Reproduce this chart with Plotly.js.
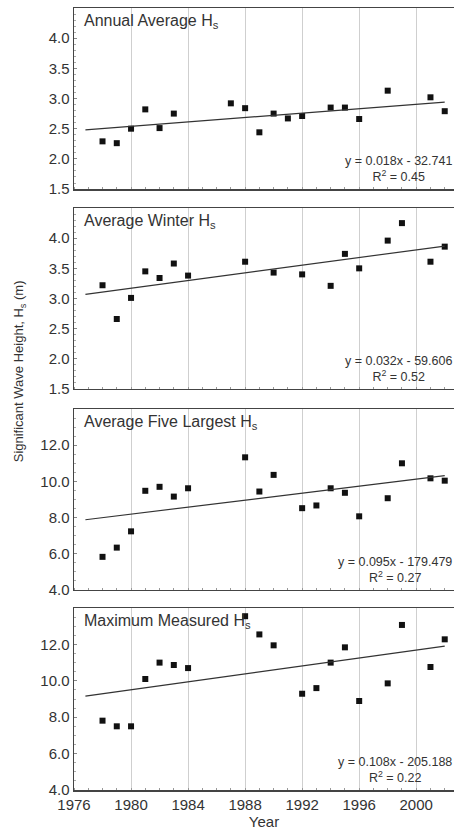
<!DOCTYPE html>
<html><head><meta charset="utf-8">
<script src="https://cdn.plot.ly/plotly-3.0.1.min.js"></script>
<style>html,body{margin:0;padding:0;background:#fff}#chart{width:454px;height:833px}</style>
</head><body><div id="chart"></div>
<script>
// ---- data ----
const panelTitles = ["Annual Average H<sub>s</sub>", "Average Winter H<sub>s</sub>", "Average Five Largest H<sub>s</sub>", "Maximum Measured H<sub>s</sub>"];
const equations = ["y = 0.018x - 32.741", "y = 0.032x - 59.606", "y = 0.095x - 179.479", "y = 0.108x - 205.188"];
const r2 = ["0.45", "0.52", "0.27", "0.22"];

const yearsAnnual = [1978,1979,1980,1981,1982,1983,1987,1988,1989,1990,1991,1992,1994,1995,1996,1998,2001,2002];
const hsAnnual    = [2.29,2.26,2.50,2.82,2.51,2.75,2.92,2.84,2.44,2.75,2.67,2.71,2.85,2.85,2.66,3.13,3.02,2.79];

const yearsWinter = [1978,1979,1980,1981,1982,1983,1984,1988,1990,1992,1994,1995,1996,1998,1999,2001,2002];
const hsWinter    = [3.22,2.66,3.01,3.45,3.34,3.58,3.38,3.61,3.43,3.40,3.21,3.74,3.50,3.96,4.25,3.61,3.86];

const yearsFive = [1978,1979,1980,1981,1982,1983,1984,1988,1989,1990,1992,1993,1994,1995,1996,1998,1999,2001,2002];
const hsFive    = [5.83,6.34,7.24,9.48,9.70,9.16,9.62,11.33,9.44,10.36,8.52,8.67,9.62,9.37,8.07,9.07,11.00,10.17,10.04];

const yearsMax = [1978,1979,1980,1981,1982,1983,1984,1988,1989,1990,1992,1993,1994,1995,1996,1998,1999,2001,2002];
const hsMax    = [7.81,7.50,7.50,10.10,11.00,10.87,10.70,13.55,12.55,11.95,9.29,9.60,11.00,11.84,8.89,9.86,13.07,10.76,12.28];

// trend line end points
const trendYears = [1976.8, 2002];
const trendAnnual = [2.48, 2.94];
const trendWinter = [3.07, 3.87];
const trendFive   = [7.88, 10.32];
const trendMax    = [9.16, 11.91];

const xTickVals = [1976,1980,1984,1988,1992,1996,2000];
const yTicksSmall = [1.5,2.0,2.5,3.0,3.5,4.0];
const yTicksLarge = [4,6,8,10,12];

// ---- build ----
const series = [
  [yearsAnnual, hsAnnual, trendAnnual],
  [yearsWinter, hsWinter, trendWinter],
  [yearsFive, hsFive, trendFive],
  [yearsMax, hsMax, trendMax]
];
const domains = [[0.7685,1],[0.5128,0.7442],[0.2558,0.4872],[0,0.2327]];
const ranges = [[1.5,4.5],[1.5,4.5],[4,14],[4,14]];

const traces = [];
const layout = {
  width:454, height:833,
  margin:{l:74,r:0,t:8,b:43},
  paper_bgcolor:'#fff', plot_bgcolor:'#fff',
  showlegend:false,
  font:{family:'Arial, "Liberation Sans", sans-serif', color:'#333'},
  annotations:[], shapes:[]
};

series.forEach((s,i)=>{
  const n = i+1;
  const xa = 'x'+(n===1?'':n), ya = 'y'+(n===1?'':n);
  traces.push({x:s[0], y:s[1], xaxis:xa, yaxis:ya, type:'scatter', mode:'markers',
    marker:{symbol:'square', size:6, color:'#111'}, cliponaxis:false});
  traces.push({x:trendYears, y:s[2], xaxis:xa, yaxis:ya, type:'scatter', mode:'lines',
    line:{color:'#333', width:1.2}});
  const xk = 'xaxis'+(n===1?'':n), yk = 'yaxis'+(n===1?'':n);
  layout[xk] = {
    domain:[0,1], anchor:ya, range:[1976,2002.65],
    tickvals:xTickVals, ticktext:xTickVals.map(String),
    showticklabels: n===4, ticks:'', showgrid:true, gridcolor:'#cfcfcf', gridwidth:1,
    showline:true, linecolor:'#444', linewidth:1.5, mirror:true, zeroline:false,
    tickfont:{size:15, color:'#333'},
    minor:{dtick:1, tick0:1976, ticks:'inside', ticklen:2, tickcolor:'#999', showgrid:false}
  };
  if(n===4){ layout[xk].title = {text:'Year', font:{size:15, color:'#333'}, standoff:2}; }
  const tv = i<2 ? yTicksSmall : yTicksLarge;
  layout[yk] = {
    domain:domains[i], anchor:xa, range:ranges[i],
    tickvals:tv, ticktext:tv.map(v=>v.toFixed(1)),
    ticks:'inside', ticklen:3, tickcolor:'#888', showgrid:false, zeroline:false,
    showline:true, linecolor:'#444', linewidth:1.5, mirror:false,
    tickfont:{size:15, color:'#333'},
    minor:{dtick: i<2 ? 0.1 : 0.5, ticks:'inside', ticklen:2, tickcolor:'#aaa', showgrid:false}
  };
  layout.annotations.push({xref:xa+' domain', yref:ya+' domain', x:0.02, y:0.99,
    xanchor:'left', yanchor:'top', showarrow:false, text:panelTitles[i],
    font:{size:16, color:'#333'}});
  layout.annotations.push({xref:xa+' domain', yref:ya+' domain', x:1.0, y:0.015,
    xanchor:'right', yanchor:'bottom', showarrow:false, align:'center',
    text:equations[i]+'<br>R<sup>2</sup> = '+r2[i], font:{size:12.5, color:'#333'}});
});

layout.annotations.push({xref:'paper', yref:'paper', x:-0.143, y:0.535, xanchor:'center', yanchor:'middle',
  textangle:-90, showarrow:false, text:'Significant Wave Height, H<sub>s</sub> (m)', font:{size:13, color:'#333'}});

Plotly.newPlot('chart', traces, layout, {displayModeBar:false, staticPlot:true});
</script></body></html>
